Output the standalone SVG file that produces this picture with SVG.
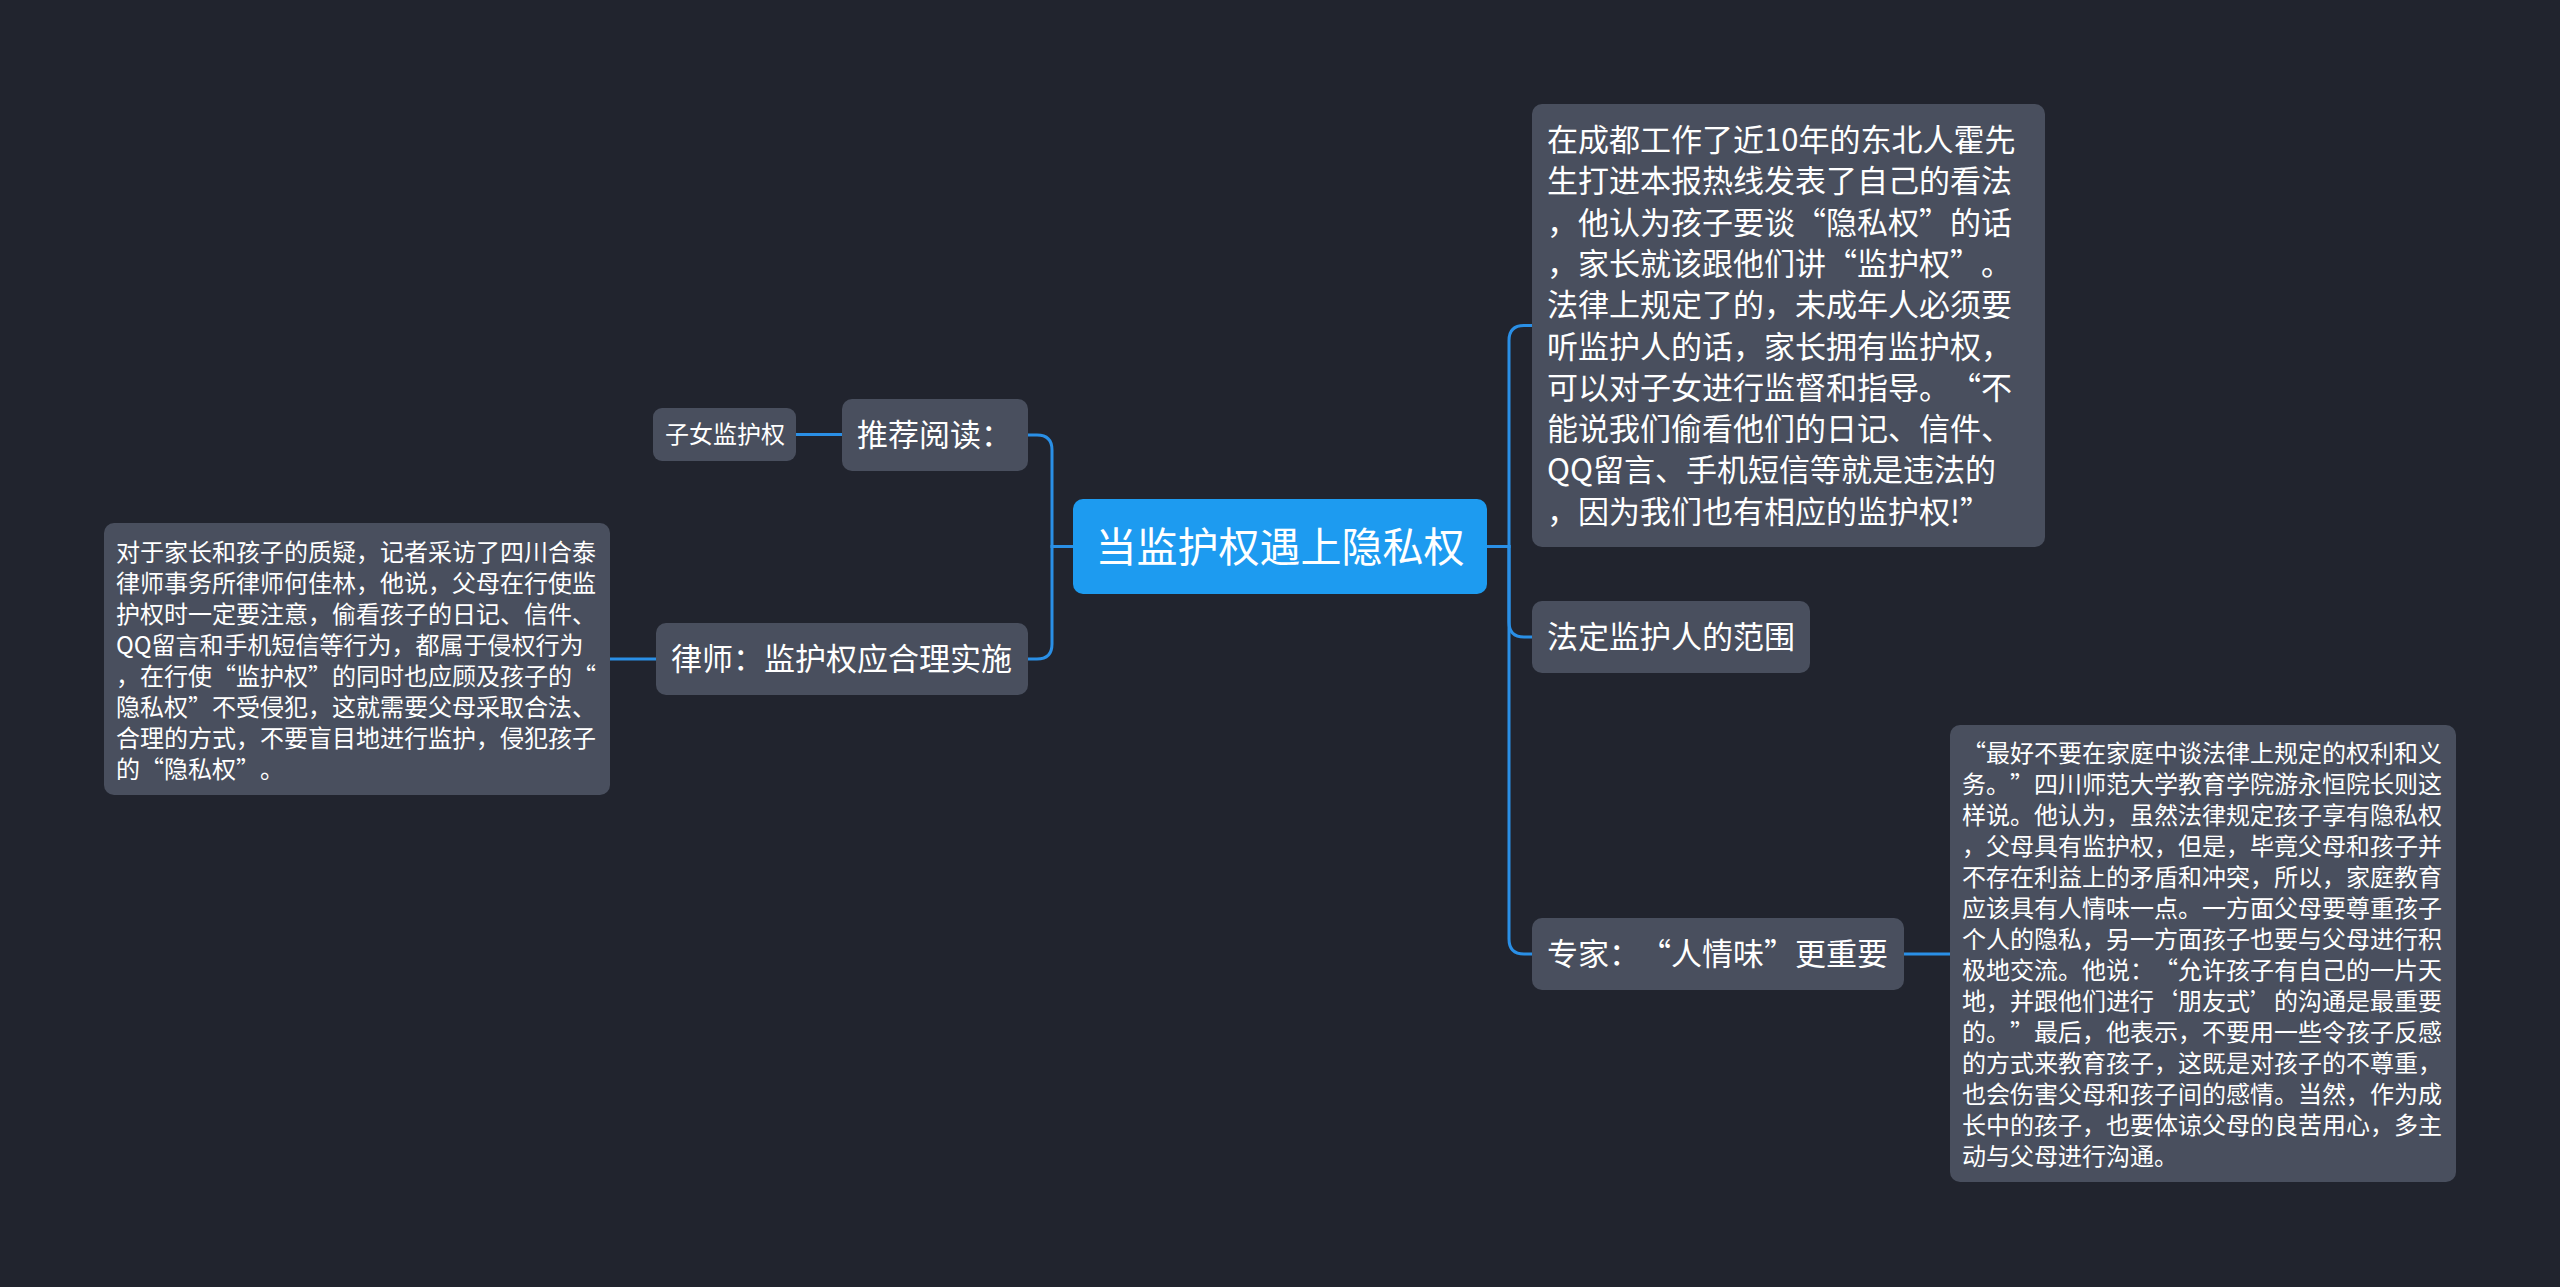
<svg xmlns="http://www.w3.org/2000/svg" width="2560" height="1287" viewBox="0 0 2560 1287">
<defs>
<style>
.bg{fill:#21242e}
.node{fill:#494f5e}
.root{fill:#1d9bf0}
.t{font-family:"Noto Sans CJK SC","Noto Sans",sans-serif;fill:#ffffff;text-spacing-trim:space-all}
.f31{font-size:31px}
.f24{font-size:24px}
.f41{font-size:41px}
.edge{fill:none;stroke:#2a8fe6;stroke-width:3;stroke-linecap:round}
</style>
</defs>
<rect class="bg" x="0" y="0" width="2560" height="1287"/>

<g id="connectors">
<path class="edge" d="M1073,546.5 H1052 V450 Q1052,435 1037,435 H1028"/>
<path class="edge" d="M1073,546.5 H1052 V644 Q1052,659 1037,659 H1028"/>
<path class="edge" d="M842,434.5 H796"/>
<path class="edge" d="M656,659 H610"/>
<path class="edge" d="M1487,546.5 H1509 V340.5 Q1509,325.5 1524,325.5 H1532"/>
<path class="edge" d="M1487,546.5 H1509 V622 Q1509,637 1524,637 H1532"/>
<path class="edge" d="M1487,546.5 H1509 V939 Q1509,954 1524,954 H1532"/>
<path class="edge" d="M1904,954 H1950"/>
</g>

<g id="root">
<rect class="root" x="1073" y="499" width="414" height="95" rx="10"/>
<text class="t f41" x="1280" y="561.5" text-anchor="middle">当监护权遇上隐私权</text>
</g>

<g id="n-tuijian">
<rect class="node" x="842" y="399" width="186" height="72" rx="10"/>
<text class="t f31" x="857" y="446">推荐阅读：</text>
</g>

<g id="n-zinv">
<rect class="node" x="653" y="408" width="143" height="53" rx="9"/>
<text class="t f24" x="665" y="443">子女监护权</text>
</g>

<g id="n-lvshi">
<rect class="node" x="656" y="623" width="372" height="72" rx="10"/>
<text class="t f31" x="671" y="670">律师：监护权应合理实施</text>
</g>

<g id="n-lvshi-detail">
<rect class="node" x="104" y="523" width="506" height="272" rx="10"/>
<text class="t f24">
<tspan x="116" y="561">对于家长和孩子的质疑，记者采访了四川合泰</tspan>
<tspan x="116" y="592">律师事务所律师何佳林，他说，父母在行使监</tspan>
<tspan x="116" y="623">护权时一定要注意，偷看孩子的日记、信件、</tspan>
<tspan x="116" y="654">QQ留言和手机短信等行为，都属于侵权行为</tspan>
<tspan x="116" y="685">，在行使“监护权”的同时也应顾及孩子的“</tspan>
<tspan x="116" y="716">隐私权”不受侵犯，这就需要父母采取合法、</tspan>
<tspan x="116" y="747">合理的方式，不要盲目地进行监护，侵犯孩子</tspan>
<tspan x="116" y="778">的“隐私权”。</tspan>
</text>
</g>

<g id="n-huo">
<rect class="node" x="1532" y="104" width="513" height="443" rx="10"/>
<text class="t f31">
<tspan x="1547" y="151">在成都工作了近10年的东北人霍先</tspan>
<tspan x="1547" y="192.3">生打进本报热线发表了自己的看法</tspan>
<tspan x="1547" y="233.6">，他认为孩子要谈“隐私权”的话</tspan>
<tspan x="1547" y="274.9">，家长就该跟他们讲“监护权”。</tspan>
<tspan x="1547" y="316.2">法律上规定了的，未成年人必须要</tspan>
<tspan x="1547" y="357.5">听监护人的话，家长拥有监护权，</tspan>
<tspan x="1547" y="398.8">可以对子女进行监督和指导。“不</tspan>
<tspan x="1547" y="440.1">能说我们偷看他们的日记、信件、</tspan>
<tspan x="1547" y="481.4">QQ留言、手机短信等就是违法的</tspan>
<tspan x="1547" y="522.7">，因为我们也有相应的监护权!”</tspan>
</text>
</g>

<g id="n-fading">
<rect class="node" x="1532" y="601" width="278" height="72" rx="10"/>
<text class="t f31" x="1547" y="648">法定监护人的范围</text>
</g>

<g id="n-zhuanjia">
<rect class="node" x="1532" y="918" width="372" height="72" rx="10"/>
<text class="t f31" x="1547" y="965">专家：“人情味”更重要</text>
</g>

<g id="n-zhuanjia-detail">
<rect class="node" x="1950" y="725" width="506" height="457" rx="10"/>
<text class="t f24">
<tspan x="1962" y="762">“最好不要在家庭中谈法律上规定的权利和义</tspan>
<tspan x="1962" y="793">务。”四川师范大学教育学院游永恒院长则这</tspan>
<tspan x="1962" y="824">样说。他认为，虽然法律规定孩子享有隐私权</tspan>
<tspan x="1962" y="855">，父母具有监护权，但是，毕竟父母和孩子并</tspan>
<tspan x="1962" y="886">不存在利益上的矛盾和冲突，所以，家庭教育</tspan>
<tspan x="1962" y="917">应该具有人情味一点。一方面父母要尊重孩子</tspan>
<tspan x="1962" y="948">个人的隐私，另一方面孩子也要与父母进行积</tspan>
<tspan x="1962" y="979">极地交流。他说：“允许孩子有自己的一片天</tspan>
<tspan x="1962" y="1010">地，并跟他们进行‘朋友式’的沟通是最重要</tspan>
<tspan x="1962" y="1041">的。”最后，他表示，不要用一些令孩子反感</tspan>
<tspan x="1962" y="1072">的方式来教育孩子，这既是对孩子的不尊重，</tspan>
<tspan x="1962" y="1103">也会伤害父母和孩子间的感情。当然，作为成</tspan>
<tspan x="1962" y="1134">长中的孩子，也要体谅父母的良苦用心，多主</tspan>
<tspan x="1962" y="1165">动与父母进行沟通。</tspan>
</text>
</g>
</svg>
